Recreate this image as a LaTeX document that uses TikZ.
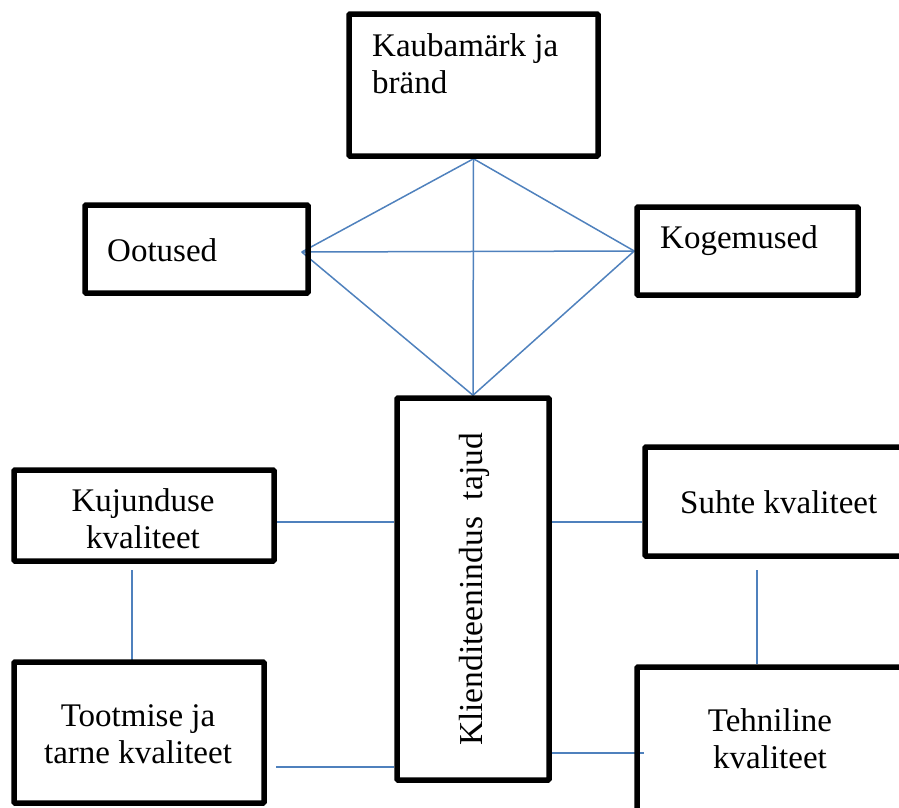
\documentclass[tikz,border=0pt]{standalone}
\usetikzlibrary{backgrounds}
\usepackage{fontspec}
\setmainfont{Liberation Serif}
\definecolor{linkblue}{RGB}{79,129,189}

\begin{document}
\begin{tikzpicture}[x=1pt,y=-1pt,
  box/.style={draw,line width=5.5pt,rounded corners=1pt,inner sep=0pt},
  link/.style={draw=linkblue,line width=1.5pt},
  lbl/.style={inner sep=0pt,font=\fontsize{33}{37}\selectfont}]
\clip (0,0) rectangle (899,807);
% ================= boxes =================
\node[box,minimum width=249pt,minimum height=142pt] (kaub) at (473.5,85) {};
\node[box,minimum width=223pt,minimum height=88pt] (oot) at (196.5,249) {};
\node[box,minimum width=221pt,minimum height=88pt] (kog) at (747.5,251) {};
\node[box,minimum width=152pt,minimum height=382pt] (klient) at (473,589) {};
\node[box,minimum width=260pt,minimum height=91pt] (kuj) at (144,515.5) {};
\node[box,minimum width=250pt,minimum height=141pt] (toot) at (139,732.5) {};
\node[box,minimum width=280pt,minimum height=109pt] (suhte) at (785,501.5) {};
\node[box,minimum width=268pt,minimum height=148pt] (tehn) at (771,741) {};
% ================= texts (base = last line) =================
\node[lbl,anchor=base west,align=left] (kaubtxt) at (372,93) {Kaubamärk ja\\bränd};
\node[lbl,anchor=base west] (oottxt) at (107,261) {Ootused};
\node[lbl,anchor=base west] (kogtxt) at (660,248) {Kogemused};
\node[lbl,anchor=base,align=center] (kujtxt) at (143,548) {Kujunduse\\kvaliteet};
\node[lbl,anchor=base,align=center] (toottxt) at (138,763) {Tootmise ja\\tarne kvaliteet};
\node[lbl,anchor=base west] (suhtetxt) at (680,513) {Suhte kvaliteet};
\node[lbl,anchor=base,align=center] (tehntxt) at (770,768) {Tehniline\\kvaliteet};
\node[lbl,font=\fontsize{33.5}{37}\selectfont,rotate=90,anchor=base] (klienttxt) at (482,589.5) {Klienditeenindus\ \ tajud};
% ================= connectors =================
\coordinate (ootV) at ([xshift=-9pt,yshift=-3pt]oot.east);
\coordinate (kujR) at ([yshift=-6.5pt]kuj.east);
\coordinate (tootR) at ([yshift=-34.5pt]toot.east);
\coordinate (klR1) at ([yshift=67pt]klient.east);
\coordinate (klR2) at ([yshift=-164pt]klient.east);
\coordinate (kujB) at ([xshift=-12pt]kuj.south);
\coordinate (suhteB) at ([xshift=-28pt]suhte.south);
\begin{scope}[on background layer]
  % diamond between the upper boxes
  \foreach \a/\b in {kaub.south/ootV,kaub.south/kog.west,kaub.south/klient.north,
                     ootV/kog.west,ootV/klient.north,kog.west/klient.north}
    \draw[link] (\a) -- (\b);
  % quality boxes
  \draw[link] (kujR) -- (kujR -| klient.west);
  \draw[link,shorten <=9.5pt] (tootR) -- (tootR -| klient.west);
  \draw[link] (klR1) -- (klR1 -| suhte.west);
  \draw[link,shorten >=-10pt] (klR2) -- (klR2 -| tehn.west);
  \draw[link,shorten <=6.5pt,shorten >=-5.5pt] (kujB) -- (kujB |- toot.north);
  \draw[link,shorten <=11.5pt] (suhteB) -- (suhteB |- tehn.north);
\end{scope}
\end{tikzpicture}
\end{document}
